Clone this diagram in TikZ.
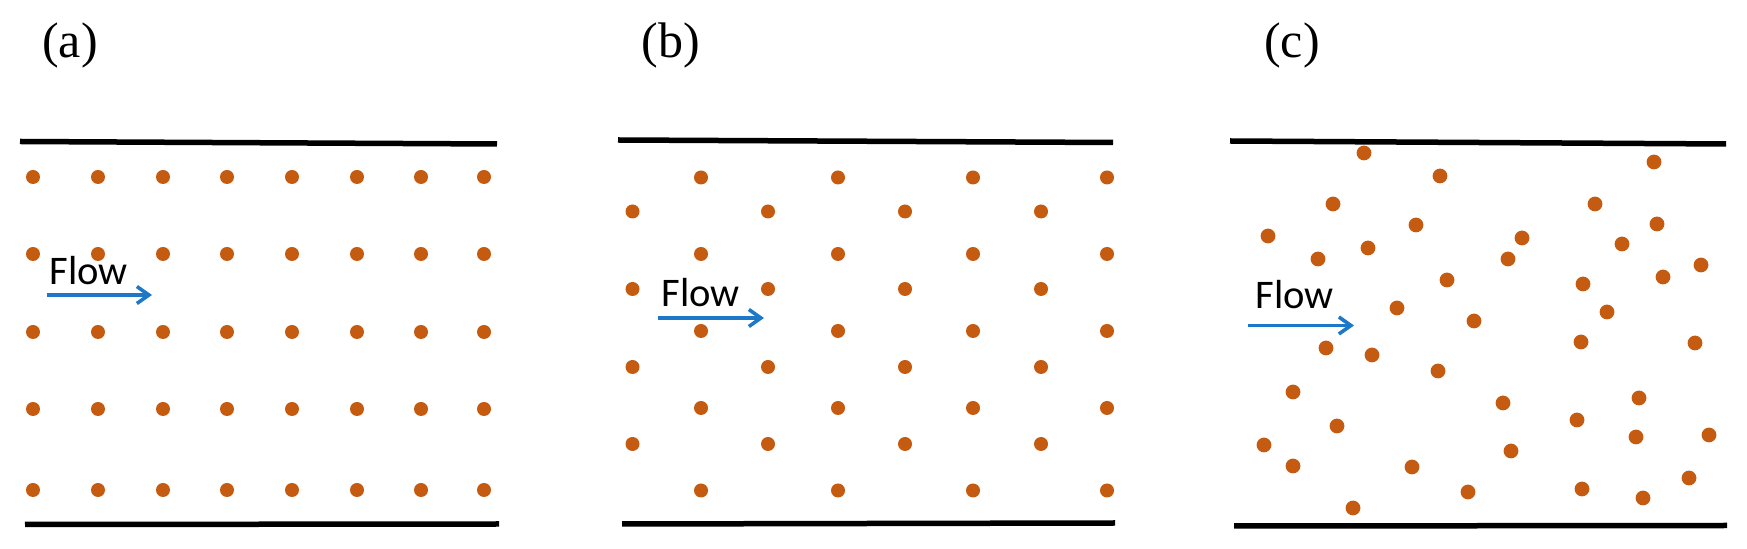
\documentclass[tikz,border=0pt]{standalone}
\usepackage{fontspec}
\usetikzlibrary{arrows.meta}
\newfontfamily\panelfont{Liberation Serif}
\newfontfamily\flowfont{Carlito}
\definecolor{dotorange}{RGB}{197,90,17}
\definecolor{flowblue}{RGB}{30,120,200}

\begin{document}
\begin{tikzpicture}[x=0.5pt, y=-0.5pt,
        wall/.style={line width=2.75pt, black},
        particle/.style={fill=dotorange},
        flowarrow/.style={flowblue, line width=1.8pt, -{Straight Barb[length=6pt, width=8.5pt]}},
        panel/.style={anchor=base, inner sep=0pt, font=\panelfont\fontsize{25}{30}\selectfont},
        flowtext/.style={anchor=base west, inner sep=0pt, font=\flowfont\fontsize{20.3}{24}\selectfont}]

        \useasboundingbox (0,0) rectangle (1747,549);

        % ---------------------------------------------------
        % 1. Panel labels
        % ---------------------------------------------------
        \node[panel] (labelA) at (70,58) {(a)};
        \node[panel] (labelB) at (671,58) {(b)};
        \node[panel] (labelC) at (1292,58) {(c)};

        % ---------------------------------------------------
        % 2. Channel walls (top and bottom of each panel)
        % ---------------------------------------------------
        \draw[wall] (20,141.5) -- (497,144);
        \draw[wall] (25,524.5) -- (499,524);

        \draw[wall] (618,140) -- (1113,142.5);
        \draw[wall] (622,524) -- (1115,523);

        \draw[wall] (1230,141) -- (1726,144);
        \draw[wall] (1234,526) -- (1727,525.5);

        % ---------------------------------------------------
        % 3. Particles
        % ---------------------------------------------------

        % (a) square lattice
        \foreach \y in {177,254,332,409,490}
            \foreach \x in {33,98,163,227,292,357,421,484}
                \fill[particle] (\x,\y) circle[radius=3.5pt];

        % (b) staggered lattice, odd rows
        \foreach \y in {177.5,254,331,408,490.5}
            \foreach \x in {701,838,973,1107}
                \fill[particle] (\x,\y) circle[radius=3.5pt];
        % (b) staggered lattice, even rows
        \foreach \y in {211.5,289,367,444}
            \foreach \x in {632.5,768,905,1041}
                \fill[particle] (\x,\y) circle[radius=3.5pt];

        % (c) random arrangement
        \foreach \x/\y in {1364/153, 1440/176, 1654/162, 1333/204, 1595/204,
                1268/236, 1416/225, 1657/224, 1522/238, 1368/248,
                1622/244, 1318/259, 1508/259, 1701/265, 1447/280,
                1663/277, 1583/284, 1397/308, 1607/312, 1474/321,
                1581/342, 1695/343, 1326/348, 1372/355, 1438/371,
                1293/392, 1639/398, 1503/403, 1577/420, 1337/426,
                1636/437, 1709/435, 1264/445, 1511/451, 1293/466,
                1412/467, 1689/478, 1468/492, 1582/489, 1643/498,
                1353/508}
            \fill[particle] (\x,\y) circle[radius=3.7pt];

        % ---------------------------------------------------
        % 4. Flow labels and arrows
        % ---------------------------------------------------
        \node[flowtext] (flowA) at (49,285) {Flow};
        \coordinate (flowA-tail) at (47,295);
        \coordinate (flowA-head) at (152,295);
        \draw[flowarrow] (flowA-tail) -- (flowA-head);

        \node[flowtext] (flowB) at (661,306.5) {Flow};
        \coordinate (flowB-tail) at (658,318);
        \coordinate (flowB-head) at (764,318);
        \draw[flowarrow] (flowB-tail) -- (flowB-head);

        \node[flowtext] (flowC) at (1255,308.5) {Flow};
        \coordinate (flowC-tail) at (1248,325.5);
        \coordinate (flowC-head) at (1354,325.5);
        \draw[flowarrow] (flowC-tail) -- (flowC-head);

    \end{tikzpicture}
\end{document}
